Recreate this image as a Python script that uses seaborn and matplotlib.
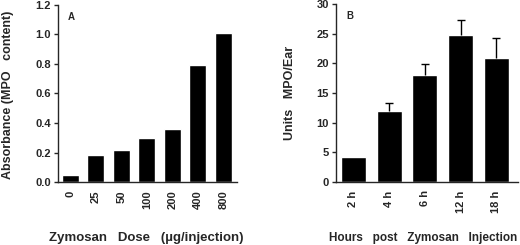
import numpy as np
import pandas as pd
import matplotlib
matplotlib.use("Agg")
import matplotlib.pyplot as plt
import seaborn as sns

# panel A: dose response
doses = ["0", "25", "50", "100", "200", "400", "800"]
absorbance = [0.05, 0.18, 0.22, 0.30, 0.36, 0.79, 1.01]

# panel B: time course
hours = ["2 h", "4 h", "6 h", "12 h", "18 h"]
units = [4.3, 12.0, 18.0, 24.7, 20.9]
units_err = [0.0, 1.3, 1.8, 2.6, 3.3]

sns.set_style("ticks")
plt.rcParams['font.family'] = ['Liberation Sans', 'DejaVu Sans']
plt.rcParams['font.weight'] = 'bold'

fig = plt.figure(figsize=(5.2, 2.45), dpi=100)
axA = fig.add_axes([0.1115, 0.257, 0.345, 0.723])
axB = fig.add_axes([0.646, 0.257, 0.350, 0.727])

dfA = pd.DataFrame({"dose": doses, "abs": absorbance})
sns.barplot(data=dfA, x="dose", y="abs", color="black", width=0.67,
            errorbar=None, ax=axA, saturation=1)
axA.set_xlim(-0.49, 6.55)
axA.set_ylim(0, 1.2)
axA.set_yticks(np.arange(0, 1.21, 0.2))
axA.set_yticklabels([f"{v:.1f}" for v in np.arange(0, 1.21, 0.2)])
axA.set_xlabel("Zymosan   Dose   (\u00b5g/injection)", fontsize=9.5, fontweight='bold')
axA.xaxis.set_label_coords(0.49, -0.28)
axA.set_ylabel("Absorbance (MPO   content)", fontsize=9, fontweight='bold')
axA.yaxis.set_label_coords(-0.245, 0.49)
axA.text(0.056, 0.93, "A", transform=axA.transAxes, fontsize=7, fontweight='bold', va='center')

dfB = pd.DataFrame({"hours": hours, "units": units})
sns.barplot(data=dfB, x="hours", y="units", color="black", width=0.70,
            errorbar=None, ax=axB, saturation=1)
# upward error bars only, skip the ones without error
idx = [i for i, e in enumerate(units_err) if e > 0]
eb = axB.errorbar(idx, [units[i] for i in idx],
                  yerr=[np.zeros(len(idx)), [units_err[i] for i in idx]],
                  fmt='none', ecolor='black', elinewidth=1, capsize=3, capthick=1)
eb[1][0].remove()
axB.set_xlim(-0.49, 4.6)
axB.set_ylim(0, 30)
axB.set_yticks(range(0, 31, 5))
axB.set_xlabel("Hours   post   Zymosan   Injection", fontsize=8.5, fontweight='bold')
axB.xaxis.set_label_coords(0.48, -0.28)
axB.set_ylabel("Units   MPO/Ear", fontsize=9, fontweight='bold', labelpad=15)
axB.text(0.06, 0.93, "B", transform=axB.transAxes, fontsize=7, fontweight='bold', va='center')

for ax in (axA, axB):
    sns.despine(ax=ax)
    ax.spines['left'].set_linewidth(1)
    ax.spines['bottom'].set_linewidth(1)
    ax.tick_params(axis='y', labelsize=8, length=3, width=1, pad=2)
    ax.tick_params(axis='x', labelsize=8, length=0, pad=6, labelrotation=90)
    for lab in ax.get_xticklabels() + ax.get_yticklabels():
        lab.set_fontweight('bold')

fig.savefig("out.png", dpi=100)
